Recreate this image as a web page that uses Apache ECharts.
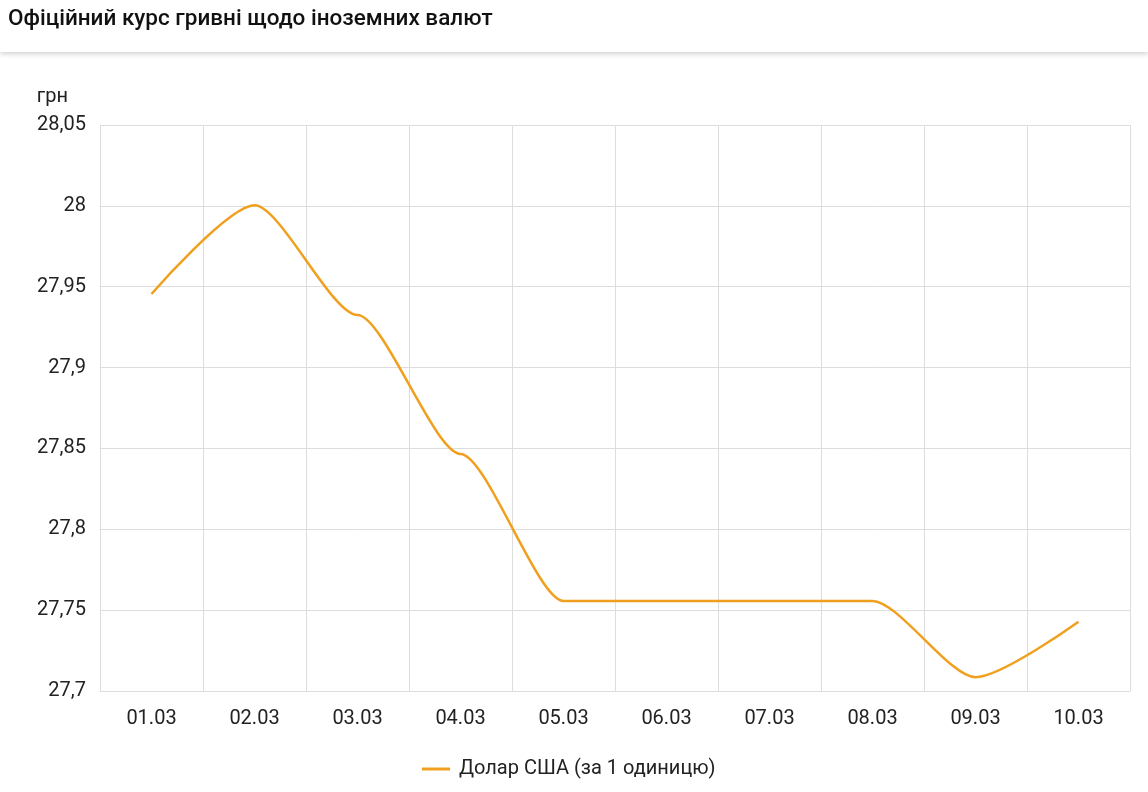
<!DOCTYPE html>
<html>
<head>
<meta charset="utf-8">
<script src="https://cdn.jsdelivr.net/npm/echarts@6/dist/echarts.min.js"></script>
<style>
html,body{margin:0;padding:0;background:#fff;}
#chart{width:1148px;height:792px;}
</style>
</head>
<body>
<div id="chart"></div>
<script>
const titleText = 'Офіційний курс гривні щодо іноземних валют';
const unitName = 'грн';
const seriesName = 'Долар США (за 1 одиницю)';
const categories = ['01.03','02.03','03.03','04.03','05.03','06.03','07.03','08.03','09.03','10.03'];
const usdValues = [27.9455, 28.0003, 27.9325, 27.8466, 27.7557, 27.7557, 27.7557, 27.7557, 27.7085, 27.7428];
const yMin = 27.7, yMax = 28.05, yStep = 0.05;

const chart = echarts.init(document.getElementById('chart'));
const font = 'Roboto, "Noto Sans", sans-serif';
chart.setOption({
  animation: false,
  backgroundColor: '#fff',
  textStyle: { fontFamily: font },
  graphic: [{
    type: 'rect', left: 0, top: 0, z: 0,
    shape: { width: 1148, height: 52 },
    style: { fill: '#fff', shadowBlur: 5, shadowOffsetY: 2, shadowColor: 'rgba(0,0,0,0.18)' }
  }],
  title: {
    text: titleText, left: 3, top: 3,
    textStyle: { fontFamily: font, fontSize: 22.5, fontWeight: 500, color: '#111' }
  },
  legend: {
    bottom: 8, left: 417,
    itemWidth: 28, itemHeight: 3, itemGap: 10,
    icon: 'rect',
    textStyle: { fontFamily: font, fontSize: 20, color: '#222', padding: [0, 0, 0, 4] },
    data: [seriesName]
  },
  grid: { left: 100, right: 18, top: 125, bottom: 101 },
  xAxis: {
    type: 'category', data: categories, boundaryGap: true,
    axisLine: { show: true, lineStyle: { color: '#ddd' } },
    axisTick: { show: false },
    splitLine: { show: true, lineStyle: { color: '#ddd' } },
    axisLabel: { margin: 18, fontSize: 20, color: '#222', fontFamily: font }
  },
  yAxis: {
    type: 'value', min: yMin, max: yMax, interval: yStep,
    name: unitName, nameLocation: 'end', nameGap: 18,
    nameTextStyle: { fontSize: 20, color: '#222', align: 'right', padding: [0, 32, 0, 0], fontFamily: font },
    axisLine: { show: false }, axisTick: { show: false },
    splitLine: { lineStyle: { color: '#ddd' } },
    axisLabel: {
      margin: 14, fontSize: 20, color: '#222', fontFamily: font,
      formatter: v => String(+v.toFixed(2)).replace('.', ',')
    }
  },
  series: [{
    name: seriesName, type: 'line', data: usdValues,
    smooth: 0.25, smoothMonotone: 'x',
    symbol: 'none', showSymbol: false,
    lineStyle: { color: '#f0a01e', width: 2.5 },
    itemStyle: { color: '#f0a01e' }
  }]
});
</script>
</body>
</html>
